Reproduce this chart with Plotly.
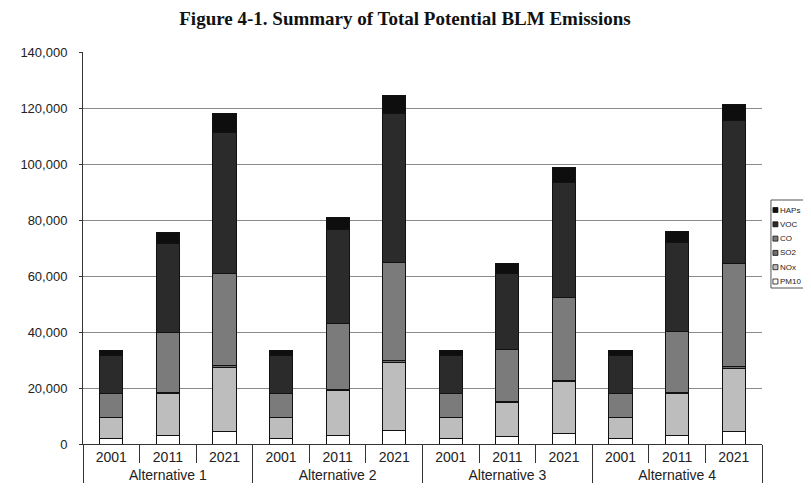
import plotly.graph_objects as go

# ---- data ----
alternatives = ["Alternative 1"] * 3 + ["Alternative 2"] * 3 + ["Alternative 3"] * 3 + ["Alternative 4"] * 3
years = ["2001", "2011", "2021"] * 4

pm10 = [2000, 3200, 4300, 2000, 3200, 5000, 2000, 2600, 3800, 2000, 3200, 4400]
nox = [7300, 14800, 23100, 7300, 15900, 24200, 7300, 12300, 18400, 7300, 14800, 22700]
so2 = [300, 500, 700, 300, 500, 700, 300, 400, 600, 300, 500, 700]
co = [8600, 21400, 32800, 8600, 23500, 34900, 8600, 18500, 29600, 8600, 21700, 36700]
voc = [13500, 31700, 50200, 13500, 33500, 53400, 13500, 27100, 40900, 13500, 31700, 50900]
haps = [1800, 3900, 6800, 1800, 4200, 6100, 1800, 3600, 5300, 1800, 4000, 6000]

series_names = ["PM10", "NOx", "SO2", "CO", "VOC", "HAPs"]
series_values = [pm10, nox, so2, co, voc, haps]
series_colors = ["#ffffff", "#bdbdbd", "#6e6e6e", "#7b7b7b", "#2b2b2b", "#0e0e0e"]

y_ticks = [0, 20000, 40000, 60000, 80000, 100000, 120000, 140000]

# ---- figure ----
fig = go.Figure()
for name, vals, col in zip(series_names, series_values, series_colors):
    fig.add_trace(go.Bar(
        x=[alternatives, years], y=vals, name=name,
        marker=dict(color=col, line=dict(color="#111111", width=1)),
        showlegend=False,
    ))

# page has an 8px body margin; size the figure so it fits the window
OFF = 8
W, H = 811 - OFF, 495 - OFF
L, R, T, B = 80 - OFF, 49, 52 - OFF, 51
pw, ph = W - L - R, H - T - B

def px_x(px):  # page pixel -> paper x
    return (px - OFF - L) / pw

def px_y(py):  # page pixel -> paper y
    return 1 - (py - OFF - T) / ph

# compact legend box (as in the reference)
leg_left, leg_top, leg_bottom = 771, 200, 288
fig.add_shape(type="rect", xref="paper", yref="paper",
              x0=px_x(leg_left), x1=px_x(811 + 5), y0=px_y(leg_bottom), y1=px_y(leg_top),
              line=dict(color="#555555", width=1), fillcolor="white", layer="above")
entry_names = list(reversed(series_names))
entry_colors = list(reversed(series_colors))
for i, (nm, col) in enumerate(zip(entry_names, entry_colors)):
    cy = 210 + i * 14.3
    fig.add_shape(type="rect", xref="paper", yref="paper",
                  x0=px_x(773), x1=px_x(778), y0=px_y(cy + 2.5), y1=px_y(cy - 2.5),
                  line=dict(color="#111111", width=0.8), fillcolor=col, layer="above")
    fig.add_annotation(xref="paper", yref="paper", x=px_x(778.5), y=px_y(cy),
                       text=nm, showarrow=False, xanchor="left", yanchor="middle",
                       font=dict(family="Liberation Sans, Arial", size=8, color="#222222"))

fig.update_layout(
    width=W, height=H,
    margin=dict(l=L, r=R, t=T, b=B),
    plot_bgcolor="white", paper_bgcolor="white",
    barmode="stack", bargap=0.59,
    font=dict(family="Liberation Sans, Arial", size=14, color="#222222"),
    title=dict(text="<b>Figure 4-1. Summary of Total Potential BLM Emissions</b>",
               x=(405 - OFF) / W, xref="container", xanchor="center",
               y=1 - (18 - OFF) / H, yref="container", yanchor="middle",
               font=dict(family="Liberation Serif, Times New Roman", size=19, color="#111111")),
)
fig.update_yaxes(
    range=[0, 140000], tickvals=y_ticks, tickformat=",d",
    showgrid=True, gridcolor="#8a8a8a", gridwidth=1,
    showline=True, linecolor="#333333", linewidth=1,
    ticks="outside", ticklen=3, tickcolor="#333333",
    ticklabelstandoff=9,
    tickfont=dict(size=13), zeroline=False,
)
fig.update_xaxes(
    type="multicategory",
    showline=True, linecolor="#333333", linewidth=1,
    ticks="outside", ticklen=18, tickcolor="#333333", tickson="boundaries",
    showdividers=True, dividercolor="#333333", dividerwidth=1,
    tickfont=dict(size=14),
)

fig.write_html("out.html")
